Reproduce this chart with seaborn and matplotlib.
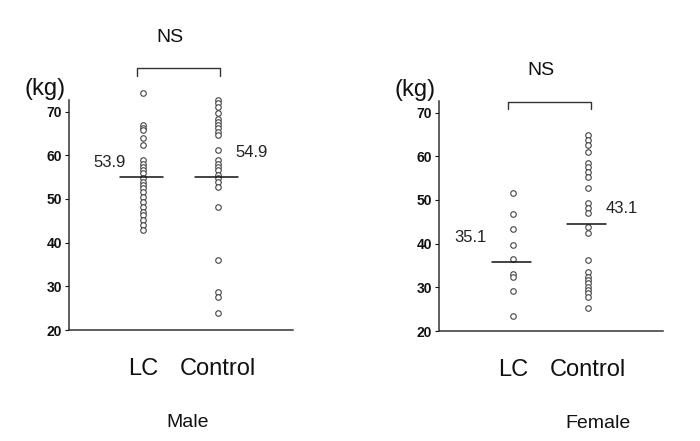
import numpy as np
import pandas as pd
import matplotlib
matplotlib.use('Agg')
import matplotlib.pyplot as plt
import seaborn as sns

# ── values ──
groups = ['LC', 'Control']
male_lc = [74.2, 66.9, 66.2, 65.8, 63.9, 62.3, 58.9, 58.1, 57.4, 56.6, 55.9,
           54.7, 53.9, 53.2, 52.4, 51.6, 50.5, 49.4, 48.2, 47.1, 46.3, 45.2, 44.0, 42.9]
male_ctrl = [72.6, 71.9, 71.1, 69.6, 68.4, 67.7, 66.9, 66.2, 65.4, 64.6, 61.2,
             58.9, 58.1, 57.4, 56.6, 55.5, 54.7, 53.9, 52.8, 48.2, 36.0, 28.8, 27.6, 23.8]
female_lc = [51.6, 46.8, 43.3, 39.7, 36.4, 33.0, 32.3, 29.2, 23.4]
female_ctrl = [64.9, 63.7, 62.6, 61.0, 58.4, 57.6, 56.5, 55.3, 52.7, 49.2, 48.1, 46.9,
               43.9, 42.4, 36.2, 33.6, 32.4, 31.7, 30.9, 30.1, 29.4, 28.6, 27.9, 25.2]
male_line = [55.0, 55.0]        # where the mean bars are drawn
female_line = [35.9, 44.5]
male_labels = ['53.9', '54.9']
female_labels = ['35.1', '43.1']
yticks = [20, 30, 40, 50, 60, 70]


def to_long(lc, ctrl):
    return pd.DataFrame({'group': ['LC'] * len(lc) + ['Control'] * len(ctrl),
                         'weight': lc + ctrl})


sns.set_style('white')
plt.rcParams['font.family'] = ['Liberation Sans', 'DejaVu Sans']

fig = plt.figure(figsize=(7, 4.41), dpi=100)
ax_m = fig.add_axes([0.0986, 0.2517, 0.32, 0.634])
ax_f = fig.add_axes([0.627, 0.2494, 0.32, 0.634])

panels = [
    (ax_m, to_long(male_lc, male_ctrl), male_line, male_labels, 0.27, 'Male', 0.53,
     [(-0.44, 58.3), (1.45, 60.6)], (0.36, 87.0), (-0.08, 1.03, 80.0, 78.2)),
    (ax_f, to_long(female_lc, female_ctrl), female_line, female_labels, 0.24, 'Female', 0.71,
     [(-0.57, 41.3), (1.45, 48.1)], (0.37, 79.7), (-0.07, 1.04, 72.4, 70.9)),
]

for ax, df, lines, labels, half, name, lab_x, lab_pos, ns_pos, br in panels:
    sns.stripplot(data=df, x='group', y='weight', order=groups, ax=ax,
                  jitter=False, size=4, color='white', edgecolor='#444444',
                  linewidth=0.8, clip_on=False, zorder=3)

    # mean bars and their values
    for i, (lv, txt) in enumerate(zip(lines, labels)):
        ax.plot([i - half - 0.04, i + half], [lv, lv], color='#111111', lw=1.1, zorder=4)
        ax.text(lab_pos[i][0], lab_pos[i][1], txt, ha='center', va='center',
                fontsize=12, color='#222222')

    # significance bracket
    x0, x1, ytop, ybot = br
    ax.plot([x0, x0, x1, x1], [ybot, ytop, ytop, ybot], color='#333333', lw=1.0,
            clip_on=False)
    ax.text(ns_pos[0], ns_pos[1], 'NS', ha='center', va='center', fontsize=14,
            color='#111111', clip_on=False)
    ax.text(-1.31, 75.1, '(kg)', ha='center', va='center', fontsize=17,
            color='#111111', clip_on=False)

    ax.set_xlim(-0.987, 2.0)
    ax.set_ylim(20, 84)
    ax.set_yticks(yticks)
    ax.set_yticklabels([str(t) for t in yticks], fontsize=10, fontweight='bold')
    ax.tick_params(axis='y', length=3, width=0.8, pad=2, colors='#111111', left=True)
    ax.tick_params(axis='x', length=0, pad=20, labelsize=17, colors='#111111')
    ax.set_xticks([0, 1])
    ax.set_xticklabels(groups)
    ax.set_ylabel('')
    ax.set_xlabel(name, fontsize=14, color='#111111')
    ax.xaxis.set_label_coords(lab_x, -0.30)

    for side in ['top', 'right']:
        ax.spines[side].set_visible(False)
    ax.spines['left'].set_bounds(20, 72.6)
    ax.spines['left'].set_color('#333333')
    ax.spines['bottom'].set_color('#333333')
    ax.spines['left'].set_linewidth(1.1)
    ax.spines['bottom'].set_linewidth(1.1)

fig.savefig('out.png', dpi=100, facecolor='white')
